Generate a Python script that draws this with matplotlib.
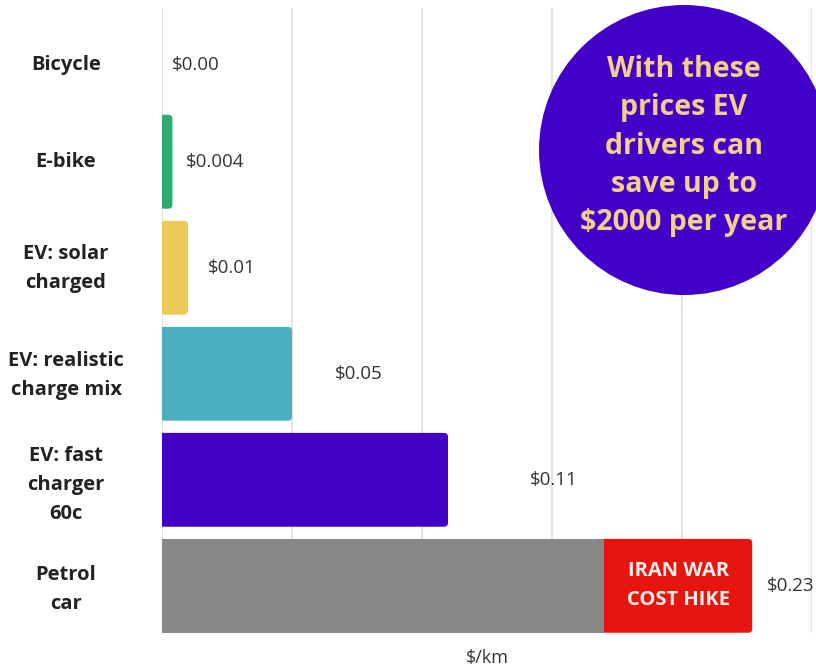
import matplotlib

matplotlib.use("Agg")

import matplotlib.pyplot as plt
from matplotlib.patches import Ellipse, FancyBboxPatch

categories = [
    "Bicycle",
    "E-bike",
    "EV: solar\ncharged",
    "EV: realistic\ncharge mix",
    "EV: fast\ncharger\n60c",
    "Petrol\ncar",
]
cost_per_km = [0.0, 0.004, 0.01, 0.05, 0.11, 0.17]
war_hike = [0.0, 0.0, 0.0, 0.0, 0.0, 0.057]
value_labels = ["$0.00", "$0.004", "$0.01", "$0.05", "$0.11", "$0.23"]
bar_colors = ["#ffffff", "#2eaa72", "#ecca5a", "#4aafbf", "#4200c4", "#888888"]
hike_color = "#e8140f"
callout = "With these\nprices EV\ndrivers can\nsave up to\n$2000 per year"

W, H, DPI = 816, 670, 100
XMAX = 0.25
YLIM = (5.445, -0.45)
AX_W, AX_H = 650, 625
BAR_H = 0.885

fig = plt.figure(figsize=(W / DPI, H / DPI), dpi=DPI)
fig.patch.set_facecolor("white")
ax = fig.add_axes([162 / W, 1 - 633 / H, AX_W / W, AX_H / H])

# rounded corners: ~4 px radius, converted to data units
rx = 4 * XMAX / AX_W
aspect = ((YLIM[0] - YLIM[1]) / AX_H) / (XMAX / AX_W)


def rounded_bar(y, left, width, color, z):
    # start left of the axis so the left corners are clipped away
    x0 = left - 3 * rx
    ax.add_patch(FancyBboxPatch(
        (x0, y - BAR_H / 2), left + width - x0, BAR_H,
        boxstyle=f"round,pad=0,rounding_size={rx}", mutation_aspect=aspect,
        facecolor=color, edgecolor="none", zorder=z))


ypos = list(range(len(categories)))
for y, v, h, c in zip(ypos, cost_per_km, war_hike, bar_colors):
    if h > 0:
        rounded_bar(y, v, h, hike_color, 2)
        ax.barh(y, v, height=BAR_H, color=c, zorder=3)
    elif v > 0:
        rounded_bar(y, 0, v, c, 2)

# offsets (data units) from bar end to the left edge of each value label
pads = [0.0038, 0.0052, 0.0077, 0.0165, 0.0315, 0.0055]
dy = [0.09, 0, 0, 0, 0, 0]
for y, v, h, lab, p, d in zip(ypos, cost_per_km, war_hike, value_labels, pads, dy):
    ax.text(v + h + p, y + d, lab, ha="left", va="center", fontsize=13.5,
            family="Open Sans", color="#333333", zorder=4)

petrol = len(categories) - 1
ax.text(cost_per_km[petrol] + war_hike[petrol] / 2, petrol, "IRAN WAR\nCOST HIKE",
        ha="center", va="center", fontsize=14.5, fontweight="bold",
        family="Open Sans", color="#f6f0ea", linespacing=1.6, zorder=4)

# category labels, centred in the left margin
label_dy = [0.09, 0, 0.01, 0.02, 0.05, 0.03]
for y, cat, d in zip(ypos, categories, label_dy):
    ax.text(-96 / AX_W, y + d, cat, transform=ax.get_yaxis_transform(),
            ha="center", va="center", fontsize=14.5, fontweight="bold",
            family="Open Sans", color="#222222", linespacing=1.6)

ax.set_xlim(0, XMAX)
ax.set_ylim(*YLIM)
ax.set_xticks([0, 0.05, 0.1, 0.15, 0.2, 0.25])
ax.set_xticklabels([])
ax.set_yticks([])
ax.tick_params(axis="x", length=0)
ax.grid(axis="x", color="#e4e4e4", linewidth=1.5, zorder=0)
for s in ax.spines.values():
    s.set_visible(False)
ax.set_xlabel("$/km", fontsize=13, family="Open Sans", color="#333333", labelpad=8)

r = 145
fig.patches.append(Ellipse((684 / W, 1 - 150 / H), 2 * r / W, 2 * r / H,
                           transform=fig.transFigure, facecolor="#4200c8",
                           edgecolor="none", zorder=5))
fig.text(684 / W, 1 - 146 / H, callout, ha="center", va="center", fontsize=20.5,
         fontweight="bold", family="Open Sans", color="#f4cf8c",
         linespacing=1.42, zorder=6)

fig.savefig("out.png", dpi=DPI, facecolor="white")
